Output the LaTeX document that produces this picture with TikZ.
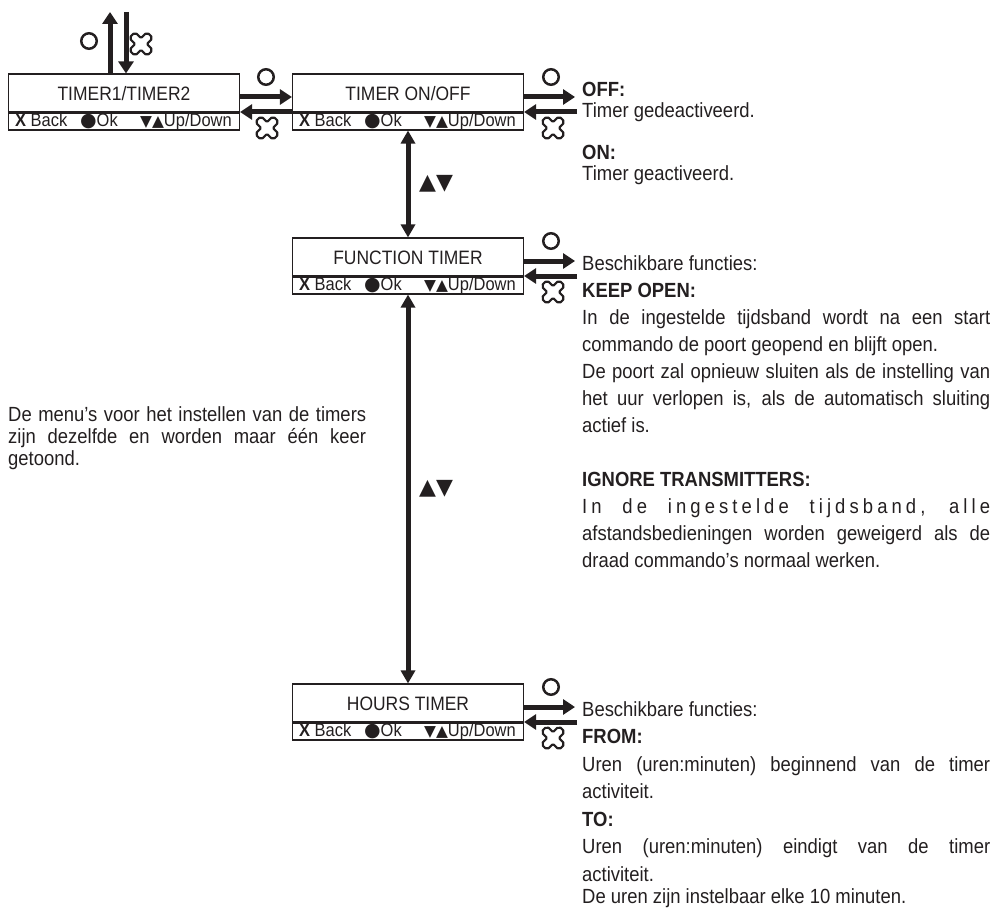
\documentclass[tikz,border=0pt]{standalone}
\usepackage{fontspec}
\setmainfont[FakeStretch=0.9]{Liberation Sans}
\newfontfamily\symfont{DejaVu Sans}
\usetikzlibrary{arrows.meta,calc}
\definecolor{ink}{RGB}{35,31,32}
\newcommand\jl[2]{\makebox[#1][s]{#2}}
\newcommand\stripline{\makebox[65pt][l]{\textbf{X} Back}\makebox[60pt][l]{{\symfont\fontsize{19}{18}\selectfont ●}Ok}{\symfont\fontsize{15.5}{18}\selectfont ▼▲}Up/Down}
\tikzset{
  menubox/.style={draw=ink, line width=1.1pt, minimum width=231pt, minimum height=56pt, inner sep=0pt},
  titletext/.style={font=\fontsize{19.4}{21}\selectfont, text=ink, inner sep=0pt},
  striptext/.style={font=\fontsize{18.3}{18}\selectfont, text=ink, inner sep=0pt, anchor=west},
  divider/.style={ink, line width=3pt},
  arr/.style={ink, line width=5pt, -{Triangle[length=12pt,width=15pt]}},
  varr/.style={ink, line width=5pt, {Triangle[length=13pt,width=14pt]}-{Triangle[length=13pt,width=14pt]}},
  body/.style={text=ink, inner sep=0pt, anchor=base west},
  ring/.style={draw=ink, line width=2.5pt, circle, minimum size=15.5pt, inner sep=0pt},
  updown/.style={font=\symfont\fontsize{22}{24}\selectfont, text=ink, inner sep=0pt, anchor=west},
  clover/.pic={\draw[ink, line width=2.2pt, line join=round]
    ([shift={(6pt,6pt)}]-67.38:4.5pt)
    arc[start angle=-67.38, end angle=157.38, radius=4.5pt]
    arc[start angle=-22.62, end angle=-157.38, radius=2pt]
    arc[start angle=22.62, end angle=247.38, radius=4.5pt]
    arc[start angle=67.38, end angle=-67.38, radius=2pt]
    arc[start angle=112.62, end angle=337.38, radius=4.5pt]
    arc[start angle=157.38, end angle=22.62, radius=2pt]
    arc[start angle=202.62, end angle=427.38, radius=4.5pt]
    arc[start angle=247.38, end angle=112.62, radius=2pt] -- cycle;}
}
\newcommand\menubox[3]{%
  \node[menubox] (#1) at (#2) {};
  \node[titletext] (#1-t) at ($(#1.center)+(0,-8)$) {#3};
  \draw[divider] ($(#1.west)+(0,10.5)$) -- ($(#1.east)+(0,10.5)$);
  \node[striptext] (#1-s) at ($(#1.west)+(7,19.5)$) {\stripline};
}
\begin{document}
\begin{tikzpicture}[x=1pt, y=-1pt]
\useasboundingbox (0,0) rectangle (995,909);

\menubox{b1}{124,102}{TIMER1/TIMER2}
\menubox{b2}{408,102}{TIMER ON/OFF}
\menubox{b3}{408,266}{FUNCTION TIMER}
\menubox{b4}{408,712}{HOURS TIMER}

% top entry arrows
\coordinate (tu) at (110,12);
\coordinate (td) at (126,12);
\draw[arr] ($(b1.north)+(-14,0)$) -- (tu);
\draw[arr] (td) -- ($(b1.north)+(2,0)$);
\node[ring] (o0) at (89,41) {};
\pic at (141,44) {clover};

% b1 <-> b2
\draw[arr] ($(b1.east)+(0,-5)$) -- ($(b2.west)+(0,-5)$);
\draw[arr] ($(b2.west)+(0,10)$) -- ($(b1.east)+(0,10)$);
\node[ring] (o1) at (266,77) {};
\pic at (267,128) {clover};

% b2 -> text
\coordinate (e2r) at (575,97);
\coordinate (e2l) at (577,112);
\draw[arr] ($(b2.east)+(0,-5)$) -- (e2r);
\draw[arr] (e2l) -- ($(b2.east)+(0,10)$);
\node[ring] (o2) at (551,77) {};
\pic at (553,128) {clover};

% b3 -> text
\coordinate (e3r) at (575,261);
\coordinate (e3l) at (577,276);
\draw[arr] ($(b3.east)+(0,-5)$) -- (e3r);
\draw[arr] (e3l) -- ($(b3.east)+(0,10)$);
\node[ring] (o3) at (551,241) {};
\pic at (553,292) {clover};

% b4 -> text
\coordinate (e4r) at (575,707);
\coordinate (e4l) at (577,722);
\draw[arr] ($(b4.east)+(0,-5)$) -- (e4r);
\draw[arr] (e4l) -- ($(b4.east)+(0,10)$);
\node[ring] (o4) at (551,687) {};
\pic at (553,738) {clover};

% vertical arrows
\draw[varr] (b2.south) -- (b3.north);
\node[updown] (ud1) at ($(b2.south)!0.5!(b3.north)+(11,0)$) {▲▼};
\draw[varr] (b3.south) -- (b4.north);
\node[updown] (ud2) at ($(b3.south)!0.5!(b4.north)+(11,0)$) {▲▼};

% texts
\node[body, font=\fontsize{20.5}{20}\selectfont] (toff) at (582,97) {\begin{tabular}[t]{@{}l@{}}\textbf{OFF:}\\Timer gedeactiveerd.\end{tabular}};
\node[body, font=\fontsize{20.5}{19.5}\selectfont] (ton) at (582,160) {\begin{tabular}[t]{@{}l@{}}\textbf{ON:}\\Timer geactiveerd.\end{tabular}};

\node[body, font=\fontsize{20.5}{27}\selectfont] (tfun) at (582,270) {\begin{tabular}[t]{@{}l@{}}
Beschikbare functies:\\
\textbf{KEEP OPEN:}\\
\jl{408pt}{In de ingestelde tijdsband wordt na een start}\\
commando de poort geopend en blijft open.\\
\jl{408pt}{De poort zal opnieuw sluiten als de instelling van}\\
\jl{408pt}{het uur verlopen is, als de automatisch sluiting}\\
actief is.\\
\mbox{}\\
\textbf{IGNORE TRANSMITTERS:}\\
\jl{408pt}{\addfontfeature{LetterSpace=20}In de ingestelde tijdsband, alle}\\
\jl{408pt}{afstandsbedieningen worden geweigerd als de}\\
draad commando’s normaal werken.
\end{tabular}};

\node[body, font=\fontsize{20.5}{27.5}\selectfont] (thrs) at (582,716) {\begin{tabular}[t]{@{}l@{}}
Beschikbare functies:\\
\textbf{FROM:}\\
\jl{408pt}{Uren (uren:minuten) beginnend van de timer}\\
activiteit.\\
\textbf{TO:}\\
\jl{408pt}{Uren (uren:minuten) eindigt van de timer}\\
activiteit.\\[-5.5pt]
De uren zijn instelbaar elke 10 minuten.
\end{tabular}};

\node[body, font=\fontsize{20.5}{22}\selectfont] (tleft) at (8,421) {\begin{tabular}[t]{@{}l@{}}
\jl{358pt}{De menu’s voor het instellen van de timers}\\
\jl{358pt}{zijn dezelfde en worden maar één keer}\\
getoond.
\end{tabular}};
\end{tikzpicture}
\end{document}
